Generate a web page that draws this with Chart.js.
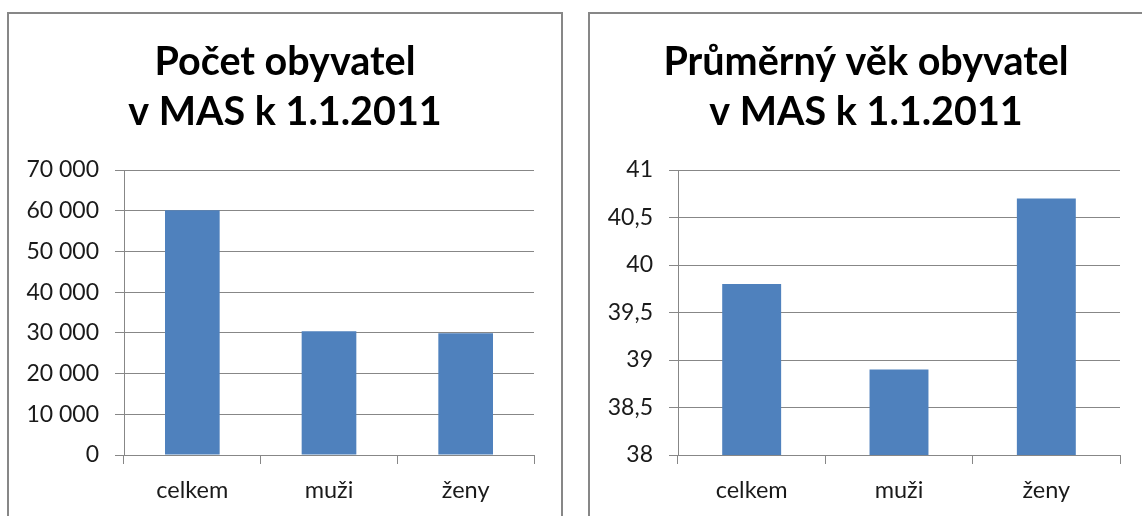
<!DOCTYPE html>
<html>
<head>
<meta charset="utf-8">
<title>Počet a průměrný věk obyvatel v MAS k 1.1.2011</title>
<script src="https://cdn.jsdelivr.net/npm/chart.js"></script>
<style>
  html, body { margin: 0; padding: 0; background: #fff; overflow: hidden; }
  body { width: 1142px; height: 516px; position: relative; }
  .box { position: absolute; top: 12px; width: 552px; height: 530px; border: 2px solid #878787; background: #fff; }
  .box canvas { display: block; }
</style>
</head>
<body>
<div class="box" style="left:7px"><canvas id="popChart" width="552" height="516"></canvas></div>
<div class="box" style="left:588px"><canvas id="ageChart" width="552" height="516"></canvas></div>

<script>
// categories shared by both charts
const categories = ['celkem', 'muži', 'ženy'];

// left chart: number of inhabitants
const popTitle = ['Počet obyvatel', 'v MAS k 1.1.2011'];
const popValues = [60100, 30400, 29900];
const popMin = 0, popMax = 70000, popStep = 10000;

// right chart: average age
const ageTitle = ['Průměrný věk obyvatel', 'v MAS k 1.1.2011'];
const ageValues = [39.8, 38.9, 40.7];
const ageMin = 38, ageMax = 41, ageStep = 0.5;

const FONT = 'Lato, "Open Sans", "DejaVu Sans", sans-serif';
const GRID = '#878787';
const BAR = '#4f81bd';

// "70 000" style thousands, "40,5" style decimals
const fmtThousands = v => String(v).replace(/\B(?=(\d{3})+(?!\d))/g, ' ');
const fmtComma = v => String(v).replace('.', ',');

function makeChart(id, title, values, min, max, step, fmt, axisWidth, rightGap) {
  return new Chart(document.getElementById(id), {
    type: 'bar',
    data: {
      labels: categories,
      datasets: [{
        data: values,
        backgroundColor: BAR,
        borderWidth: 0,
        barPercentage: 0.4,
        categoryPercentage: 1.0
      }]
    },
    options: {
      responsive: false,
      animation: false,
      layout: { padding: 0 },
      plugins: {
        legend: { display: false },
        tooltip: { enabled: false },
        title: {
          display: true,
          text: title,
          color: '#000',
          font: { family: FONT, size: 39.5, weight: 'bold', lineHeight: 1.266 },
          padding: { top: 23, bottom: 33 }
        }
      },
      scales: {
        x: {
          offset: true,
          grid: { display: true, drawOnChartArea: false, drawTicks: true, tickLength: 9, color: GRID, offset: true },
          border: { display: true, color: GRID },
          ticks: { color: '#1a1a1a', padding: 12, font: { family: FONT, size: 23.5 } },
          afterFit: s => { s.height = 75; }
        },
        y: {
          min: min,
          max: max,
          grid: { color: GRID, tickLength: 9 },
          border: { display: true, color: GRID },
          ticks: { stepSize: step, color: '#1a1a1a', padding: 16, font: { family: FONT, size: 23 }, callback: fmt },
          afterFit: s => { s.width = axisWidth; }
        },
        // empty spacer on the right so the plot ends before the frame
        gap: {
          position: 'right',
          display: true,
          grid: { display: false },
          border: { display: false },
          ticks: { display: false },
          afterFit: s => { s.width = rightGap; }
        }
      }
    }
  });
}

makeChart('popChart', popTitle, popValues, popMin, popMax, popStep, fmtThousands, 115, 27);
makeChart('ageChart', ageTitle, ageValues, ageMin, ageMax, ageStep, fmtComma, 88, 22);
</script>
</body>
</html>
